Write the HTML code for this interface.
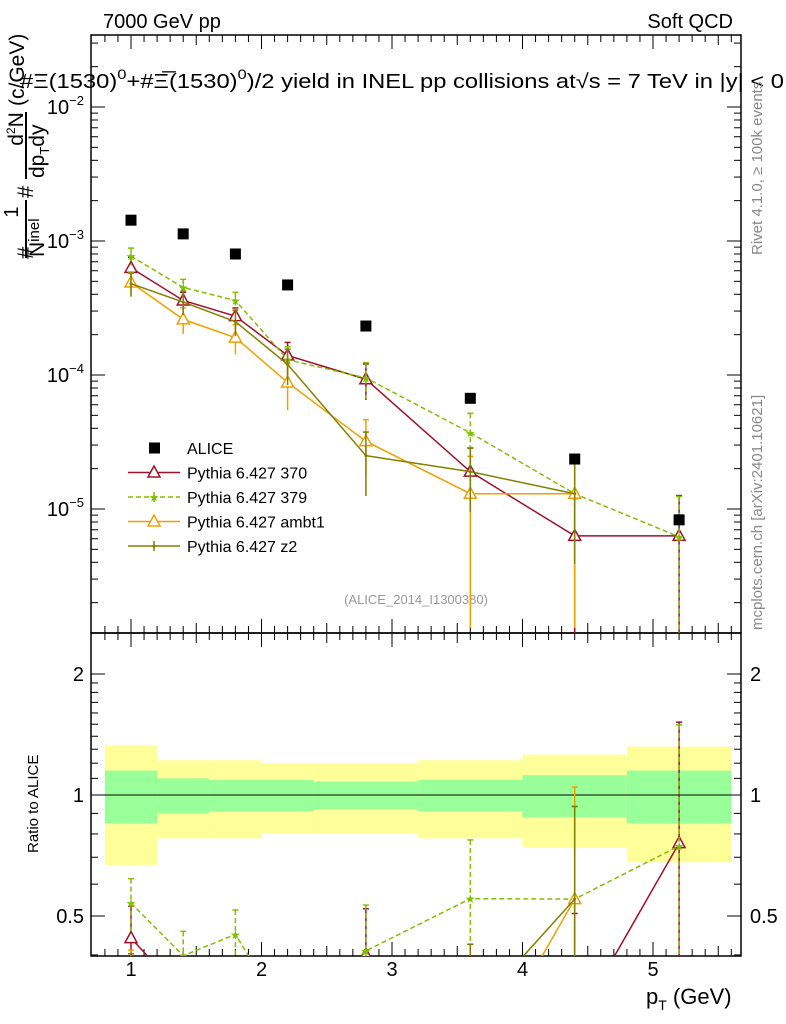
<!DOCTYPE html>
<html><head><meta charset="utf-8"><style>
body{margin:0;background:#fff;overflow:hidden}
svg{font-family:"Liberation Sans",sans-serif;display:block}
</style></head><body>
<svg id="c" width="786" height="1024" xmlns="http://www.w3.org/2000/svg">
<rect width="786" height="1024" fill="#fff"/>
<text x="103" y="28" font-size="20">7000 GeV pp</text>
<text x="733" y="28" font-size="20" text-anchor="end">Soft QCD</text>
<text x="20" y="88" font-size="20" textLength="764" lengthAdjust="spacingAndGlyphs">#Ξ(1530)<tspan dy="-9" font-size="14">0</tspan><tspan dy="9">+#Ξ̅(1530)</tspan><tspan dy="-9" font-size="14">0</tspan><tspan dy="9">)/2 yield in INEL pp collisions at√s = 7 TeV in |y| &lt; 0</tspan></text>
<g transform="rotate(-90)">
<text x="-259" y="33" font-size="22">#</text>
<text x="-212" y="18" font-size="20" text-anchor="middle">1</text>
<line x1="-258" x2="-200" y1="26" y2="26" stroke="#000" stroke-width="2"/>
<text x="-257" y="44" font-size="21">N<tspan font-size="15" dy="-5">inel</tspan></text>
<text x="-198" y="33" font-size="22">#</text>
<text x="-129" y="23" font-size="21" text-anchor="middle">d<tspan font-size="12" dy="-8">2</tspan><tspan dy="8">N</tspan></text>
<line x1="-179" x2="-112" y1="26" y2="26" stroke="#000" stroke-width="2"/>
<text x="-178" y="44" font-size="21">dp<tspan font-size="13" dy="5">T</tspan><tspan dy="-5">dy</tspan></text>
<text x="-106" y="24" font-size="21">(c/GeV)</text>
</g>
<text transform="translate(762,255) rotate(-90)" font-size="15" fill="#888">Rivet 4.1.0, ≥ 100k events</text>
<text transform="translate(762,630) rotate(-90)" font-size="15" fill="#888">mcplots.cern.ch [arXiv:2401.10621]</text>
<text x="416" y="604" font-size="13" fill="#999" text-anchor="middle">(ALICE_2014_I1300380)</text>
<text transform="translate(38,853) rotate(-90)" font-size="15">Ratio to ALICE</text>
<text x="646" y="1004" font-size="22">p<tspan font-size="14" dy="6">T</tspan><tspan dy="-6"> (GeV)</tspan></text>
<defs><clipPath id="cm"><rect x="91" y="35" width="650" height="598"/></clipPath><clipPath id="cr"><rect x="91" y="633" width="650" height="323"/></clipPath></defs>
<g id="g"></g>
</svg>
<script>
const xs=[1.0,1.4,1.8,2.2,2.8,3.6,4.4,5.2];
const edges=[0.8,1.2,1.6,2.0,2.4,3.2,4.0,4.8,5.6];
const alice=[1.43e-3,1.13e-3,8.0e-4,4.7e-4,2.32e-4,6.7e-5,2.36e-5,8.3e-6];
const aliceStat=[0.15,0.10,0.09,0.09,0.08,0.09,0.12,0.15];
const aliceTot=[0.33,0.22,0.22,0.20,0.20,0.22,0.26,0.32];
const p370=[6.3e-4,3.6e-4,2.75e-4,1.4e-4,9.3e-5,1.9e-5,6.3e-6,6.3e-6];
const p370err=[0.2,0.15,0.15,0.25,0.3,0.5,0.9,1.0];
const p379=[7.7e-4,4.5e-4,3.6e-4,1.3e-4,9.5e-5,3.7e-5,1.3e-5,6.2e-6];
const p379err=[0.15,0.15,0.15,0.25,0.3,0.4,0.7,1.0];
const ambt=[4.9e-4,2.6e-4,1.9e-4,8.8e-5,3.2e-5,1.3e-5,1.3e-5,null];
const ambterr=[0.2,0.22,0.25,0.38,0.45,0.9,0.9,0];
const z2=[4.8e-4,3.5e-4,2.5e-4,1.2e-4,2.5e-5,1.9e-5,1.3e-5,null];
const z2err=[0.2,0.2,0.22,0.3,0.5,0.5,0.7,0];
const xTicks=[1,2,3,4,5];

const BOT=956;
const X=v=>131+(v-1)*130.5;
const Y=v=>107-(Math.log10(v)+2)*134;
const R=v=>795-Math.log2(v)*121;
const NS="http://www.w3.org/2000/svg",G=document.getElementById('g');
function mk(t,a,p){const e=document.createElementNS(NS,t);for(const k in a)e.setAttribute(k,a[k]);(p||G).appendChild(e);return e;}
const bands=mk('g',{});


for(let i=0;i<xs.length;i++){
 const x0=X(edges[i]),x1=X(edges[i+1]);
 const y=mk('rect',{x:x0,y:R(1+aliceTot[i]),width:x1-x0,height:R(1-aliceTot[i])-R(1+aliceTot[i]),fill:'#ffff99'},bands);
 
 
 const gr=mk('rect',{x:x0,y:R(1+aliceStat[i]),width:x1-x0,height:R(1-aliceStat[i])-R(1+aliceStat[i]),fill:'#99ff99'},bands);
 
 
}
const one=mk('line',{x1:91,x2:741,y1:R(1),y2:R(1),stroke:'#000','stroke-width':1});


for(const [y0,h,n] of [[35,598,'main-frame'],[633,BOT-633,'ratio-frame']]){
 const f=mk('rect',{x:91,y:y0,width:650,height:h,fill:'none',stroke:'#000','stroke-width':1.5});
 
 
}
for(let v=0.8;v<=5.61;v+=0.1){
 const major=Math.abs(v-Math.round(v))<1e-6, half=Math.abs(v*2-Math.round(v*2))<1e-6;
 const L=major?14:(half?10:7), x=X(v);
 for(const [a,b] of [[35,1],[633,-1],[633,1],[BOT,-1]]) mk('line',{x1:x,x2:x,y1:a,y2:a+b*L,stroke:'#000'});
}
xTicks.forEach(v=>{const t=mk('text',{x:X(v),y:976,'font-size':20,'text-anchor':'middle'});t.textContent=v;
 
 });
for(let d=-6;d<=-1;d++){for(let m=1;m<10;m++){const v=m*Math.pow(10,d),y=Y(v);if(y<35||y>633)continue;const L=m==1?14:7;
 mk('line',{x1:91,x2:91+L,y1:y,y2:y,stroke:'#000'});mk('line',{x1:741,x2:741-L,y1:y,y2:y,stroke:'#000'});
 if(m==1){const t=mk('text',{x:84,y:y+7,'font-size':20,'text-anchor':'end'});t.innerHTML='10<tspan dy="-9" font-size="13">−'+(-d)+'</tspan>';
 
 }}}
[0.4,0.5,0.6,0.7,0.8,0.9,1,1.1,1.2,1.3,1.4,1.5,1.6,1.7,1.8,1.9,2].forEach(v=>{const y=R(v),L=(v==0.5||v==1||v==2)?14:7;
 mk('line',{x1:91,x2:91+L,y1:y,y2:y,stroke:'#000'});mk('line',{x1:741,x2:741-L,y1:y,y2:y,stroke:'#000'});
 if(L==14){for(const [x,a] of [[84,'end'],[750,'start']]){const t=mk('text',{x:x,y:y+7,'font-size':20,'text-anchor':a});t.textContent=v;
 
 }}});
const series=[
 {n:'pythia-370',v:p370,e:p370err,c:'#a0102a',d:'',m:'tri'},
 {n:'pythia-379',v:p379,e:p379err,c:'#80c000',d:'5,3',m:'star'},
 {n:'pythia-ambt1',v:ambt,e:ambterr,c:'#f0a000',d:'',m:'tri'},
 {n:'pythia-z2',v:z2,e:z2err,c:'#808000',d:'',m:'dot'}];
function marker(p,m,c,x,y){
 if(m=='tri')mk('path',{d:`M${x},${y-6.5}L${x+6},${y+4.5}L${x-6},${y+4.5}Z`,fill:'#fff',stroke:c,'stroke-width':1.5},p);
 else if(m=='star')mk('text',{x:x,y:y+4.5,'font-size':12,'text-anchor':'middle',fill:c},p).textContent='★';
 else mk('circle',{cx:x,cy:y,r:1.5,fill:c},p);
}
function draw(panel){
 const clip=panel=='main'?'url(#cm)':'url(#cr)';
 series.forEach(s=>{
  const g=mk('g',{'clip-path':clip});
  
  
  const f=panel=='main'?(i=>Y(s.v[i])):(i=>R(s.v[i]/alice[i]));
  const val=panel=='main'?(i=>s.v[i]):(i=>s.v[i]/alice[i]);
  const Fy=panel=='main'?Y:R;
  let pts=[];xs.forEach((x,i)=>{if(s.v[i]!=null)pts.push(X(x)+','+f(i));});
  mk('polyline',{points:pts.join(' '),fill:'none',stroke:s.c,'stroke-width':1.5,'stroke-dasharray':s.d},g);
  xs.forEach((x,i)=>{if(s.v[i]==null)return;const v=val(i),e=s.e[i];
   const yt=Fy(v*(1+e));
   mk('line',{x1:X(x),x2:X(x),y1:yt,y2:Fy(Math.max(v*(1-e),1e-9)),stroke:s.c,'stroke-width':1.5,'stroke-dasharray':s.d},g);
   mk('line',{x1:X(x)-3,x2:X(x)+3,y1:yt,y2:yt,stroke:s.c,'stroke-width':1.5},g);
   marker(g,s.m,s.c,X(x),f(i));});
 });
}
draw('main');draw('ratio');
const ag=mk('g',{'clip-path':'url(#cm)'});


xs.forEach((x,i)=>{const r=mk('rect',{x:X(x)-5.5,y:Y(alice[i])-5.5,width:11,height:11,fill:'#000'},ag);
 
 });
const lg=mk('g',{});


const labels=['ALICE','Pythia 6.427 370','Pythia 6.427 379','Pythia 6.427 ambt1','Pythia 6.427 z2'];
labels.forEach((l,i)=>{const y=448+i*24.5;
 const t=mk('text',{x:187,y:y+6,'font-size':16},lg);t.textContent=l;
 if(i==0)mk('rect',{x:149,y:y-5.5,width:11,height:11,fill:'#000'},lg);
 else{const s=series[i-1];mk('line',{x1:128,x2:180,y1:y,y2:y,stroke:s.c,'stroke-width':1.5,'stroke-dasharray':s.d},lg);
  mk('line',{x1:154,x2:154,y1:y-5,y2:y+5,stroke:s.c,'stroke-width':1.5},lg);marker(lg,s.m,s.c,154,y);}
});
</script>
</body></html>
